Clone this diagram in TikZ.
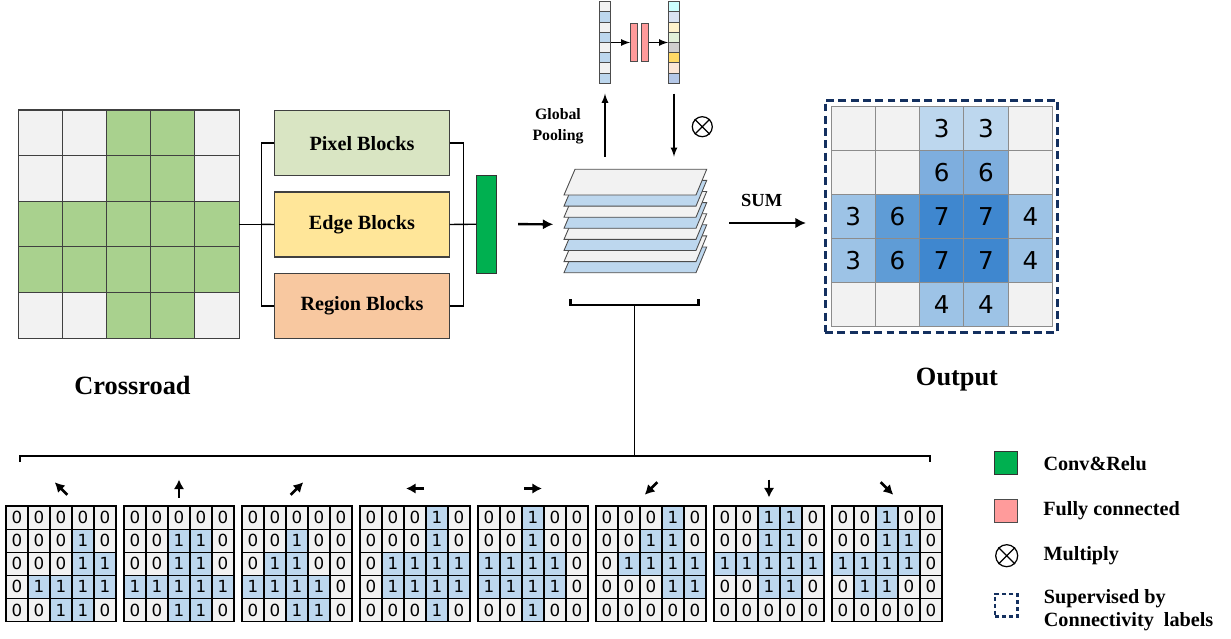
\documentclass[tikz,border=0pt]{standalone}
\usepackage{fontspec}
\setmainfont{Liberation Serif}
\newfontfamily\digitfont{DejaVu Sans}
\usetikzlibrary{positioning,calc,arrows.meta}

\definecolor{CellGray}{HTML}{F2F2F2}
\definecolor{CellBlue}{HTML}{BDD7EE}
\definecolor{CrossGreen}{HTML}{A9D18E}
\definecolor{PixelCol}{HTML}{D9E5C3}
\definecolor{EdgeCol}{HTML}{FFE699}
\definecolor{RegionCol}{HTML}{F8C8A0}
\definecolor{ConvGreen}{HTML}{00B050}
\definecolor{FcRed}{HTML}{FF9B9B}
\definecolor{LabelNavy}{HTML}{14305F}
\colorlet{cell0}{CellGray}
\colorlet{cell1}{CellBlue}
\colorlet{cross0}{CellGray}
\colorlet{cross1}{CrossGreen}
\colorlet{outg}{CellGray}
\definecolor{outa}{HTML}{BDD7EE}
\definecolor{outb}{HTML}{7EAEDE}
\definecolor{outc}{HTML}{9DC3E6}
\definecolor{outd}{HTML}{5F9CD6}
\definecolor{oute}{HTML}{3F87CF}
\definecolor{VecA}{HTML}{CCFFFF}
\definecolor{VecB}{HTML}{DAE3F3}
\definecolor{VecC}{HTML}{FFF2CC}
\definecolor{VecD}{HTML}{E2F0D9}
\definecolor{VecE}{HTML}{D0CECE}
\definecolor{VecF}{HTML}{FFD966}
\definecolor{VecG}{HTML}{FBE5D6}
\definecolor{VecH}{HTML}{B4C7E7}

\tikzset{
  wire/.style={line width=0.8pt},
  arr/.style={line width=0.8pt,-latex},
  bigarrow/.style={line width=1.4pt,-{Latex[length=6pt,width=6pt]}},
  dirarrow/.style={line width=1.6pt,-{Latex[length=5.5pt,width=6pt]}},
  blockbox/.style={draw=black!75,line width=0.6pt,minimum width=3.49cm,minimum height=1.3cm,inner sep=0,
    font=\fontsize{11.5}{13}\selectfont\bfseries},
  biglabel/.style={font=\fontsize{15}{17}\selectfont\bfseries},
  legtext/.style={font=\fontsize{11.5}{13.2}\selectfont\bfseries,anchor=west,inner sep=0,align=left},
  bigdigit/.style={font=\digitfont\fontsize{14}{14}\selectfont,inner sep=0},
  smalldigit/.style={font=\digitfont\fontsize{9.5}{10}\selectfont,inner sep=0},
  mulsym/.style={draw,circle,line width=0.7pt,inner sep=0},
  supbox/.style={draw=LabelNavy,line width=1.7pt,dash pattern=on 4.5pt off 2.5pt,inner sep=0},
}

\begin{document}
\begin{tikzpicture}[x=0.02cm,y=-0.02cm]
\useasboundingbox (0,0) rectangle (1231,639);

% crossroad input
\foreach \row [count=\r from 0] in {{0,0,1,1,0},{0,0,1,1,0},{1,1,1,1,1},{1,1,1,1,1},{0,0,1,1,0}}
  \foreach \v [count=\c from 0] in \row
    \filldraw[fill=cross\v,draw=black!75,line width=0.6pt] (18.3+44.15*\c,110+45.65*\r) rectangle ++(44.15,45.65);
\coordinate (CrossEast) at (239,224.3);
\node[biglabel] (crosslabel) at (132.5,385) {Crossroad};

% three block branches
\node[blockbox,fill=PixelCol] (pixel) at (362,143.2) {Pixel Blocks};
\node[blockbox,fill=EdgeCol] (edge) at (362,224.5) {Edge Blocks};
\node[blockbox,fill=RegionCol] (region) at (362,305.8) {Region Blocks};
\node[draw=black!80,fill=ConvGreen,line width=0.6pt,minimum width=0.4cm,minimum height=1.966cm,inner sep=0] (conv) at (486.7,224.2) {};

\coordinate (SplitL) at (261.7,224.3);
\coordinate (JoinR) at (463.3,224.3);
\draw[wire] (CrossEast) -- (SplitL);
\draw[wire] (pixel.west) -| (SplitL) |- (region.west);
\draw[wire] (SplitL) -- (edge.west);
\draw[wire] (pixel.east) -| (JoinR) |- (region.east);
\draw[wire] (edge.east) -- (conv.west);

% stacked feature maps
\foreach \i/\col in {7/CellBlue,6/CellGray,5/CellBlue,4/CellGray,3/CellBlue,2/CellGray,1/CellBlue,0/CellGray}
  \filldraw[fill=\col,draw=black!70,line width=0.5pt] (575,169.3+11.1*\i) -- (706.7,169.3+11.1*\i) -- (696,195+11.1*\i) -- (564,195+11.1*\i) -- cycle;
\coordinate (StackIn) at (553.3,224.3);
\coordinate (StackOut) at (729,223);
\coordinate (OutIn) at (806,223);
\draw[bigarrow] ([xshift=0.42cm]conv.east) -- (StackIn);
\draw[bigarrow] (StackOut) -- (OutIn);
\node[font=\fontsize{10.5}{12}\selectfont\bfseries] (sum) at (761.7,200) {SUM};

% channel attention on top
\foreach \col [count=\i from 0] in {CellGray,CellBlue,CellGray,CellBlue,CellGray,CellBlue,CellGray,CellBlue}
  \filldraw[fill=\col,draw=black!70,line width=0.5pt] (599.5,1.7+10.2*\i) rectangle ++(11,10.2);
\foreach \col [count=\i from 0] in {VecA,VecB,VecC,VecD,VecE,VecF,VecG,VecH}
  \filldraw[fill=\col,draw=black!70,line width=0.5pt] (668.5,1.7+10.2*\i) rectangle ++(11,10.2);
\node[minimum width=0.22cm,minimum height=1.632cm,inner sep=0] (vecin) at (605,42.5) {};
\node[minimum width=0.22cm,minimum height=1.632cm,inner sep=0] (vecout) at (674,42.5) {};
\node[draw=black!70,fill=FcRed,line width=0.5pt,minimum width=0.132cm,minimum height=0.768cm,inner sep=0] (fc1) at (634,42.5) {};
\node[draw=black!70,fill=FcRed,line width=0.5pt,minimum width=0.132cm,minimum height=0.768cm,inner sep=0] (fc2) at (645,42.5) {};
\draw[arr] (vecin.east) -- (fc1.west);
\draw[arr] (fc2.east) -- (vecout.west);
\coordinate (PoolFrom) at (605,156.7);
\coordinate (ScaleTo) at (674,156.7);
\draw[arr] (PoolFrom) -- ([yshift=-0.2cm]vecin.south);
\draw[arr] ([yshift=-0.2cm]vecout.south) -- (ScaleTo);
\node[font=\fontsize{9}{12}\selectfont\bfseries,align=center] (pool) at (558,126) {Global\\Pooling};
\node[mulsym,minimum size=0.4cm] (mul) at (702.3,126.7) {};
\draw[line width=0.7pt] (mul.north west) -- (mul.south east) (mul.north east) -- (mul.south west);

% output map
\foreach \row [count=\r from 0] in {{g,g,a,a,g},{g,g,b,b,g},{c,d,e,e,c},{c,d,e,e,c},{g,g,c,c,g}}
  \foreach \k [count=\c from 0] in \row
    \filldraw[fill=out\k,draw=black!45,line width=0.5pt] (831+44.3*\c,106.7+44*\r) rectangle ++(44.3,44);
\foreach \c/\r/\v in {2/0/3,3/0/3,2/1/6,3/1/6,0/2/3,1/2/6,2/2/7,3/2/7,4/2/4,0/3/3,1/3/6,2/3/7,3/3/7,4/3/4,2/4/4,3/4/4}
  \node[bigdigit] (out-\c-\r) at (853.15+44.3*\c,128.7+44*\r) {\v};
\node[supbox,minimum width=4.654cm,minimum height=4.646cm] (outbox) at (941.4,216.2) {};
\node[biglabel] (outlabel) at (957,380) {Output};

% brackets
\coordinate (BraceMid) at (634.5,305);
\coordinate (BraceLow) at (634.5,456);
\draw[line width=1.4pt] (570.7,299.3) -- (570.7,305) -- (698.3,305) -- (698.3,299.3);
\draw[line width=1pt] (BraceMid) -- (BraceLow);
\draw[line width=1pt] (20,462) -- (20,456) -- (930,456) -- (930,462);

% eight directional connectivity maps
\foreach \m/\dx/\dy/\rows in {
  0/-0.7/-0.7/{{0,0,0,0,0},{0,0,0,1,0},{0,0,0,1,1},{0,1,1,1,1},{0,0,1,1,0}},
  1/0/-1/{{0,0,0,0,0},{0,0,1,1,0},{0,0,1,1,0},{1,1,1,1,1},{0,0,1,1,0}},
  2/0.7/-0.7/{{0,0,0,0,0},{0,0,1,0,0},{0,1,1,0,0},{1,1,1,1,0},{0,0,1,1,0}},
  3/-1/0/{{0,0,0,1,0},{0,0,0,1,0},{0,1,1,1,1},{0,1,1,1,1},{0,0,0,1,0}},
  4/1/0/{{0,0,1,0,0},{0,0,1,0,0},{1,1,1,1,0},{1,1,1,1,0},{0,0,1,0,0}},
  5/-0.7/0.7/{{0,0,0,1,0},{0,0,1,1,0},{0,1,1,1,1},{0,0,0,1,1},{0,0,0,0,0}},
  6/0/1/{{0,0,1,1,0},{0,0,1,1,0},{1,1,1,1,1},{0,0,1,1,0},{0,0,0,0,0}},
  7/0.7/0.7/{{0,0,1,0,0},{0,0,1,1,0},{1,1,1,1,0},{0,1,1,0,0},{0,0,0,0,0}}}{
  \foreach \row [count=\r from 0] in \rows
    \foreach \v [count=\c from 0] in \row {
      \filldraw[fill=cell\v,draw=black,line width=0.6pt] (6+118*\m+22*\c,506+23.1*\r) rectangle ++(22,23.1);
      \node[smalldigit] (m\m-\r-\c) at (17+118*\m+22*\c,517.55+23.1*\r) {\v};
    }
  \draw[dirarrow] ({61+118*\m-9*(\dx)},{488.5-9*(\dy)}) -- ({61+118*\m+9*(\dx)},{488.5+9*(\dy)});
}

% legend
\node[draw=black!80,fill=ConvGreen,line width=0.6pt,minimum size=0.466cm,inner sep=0] (legconv) at (1006,463.3) {};
\node[draw=black!70,fill=FcRed,line width=0.6pt,minimum size=0.46cm,inner sep=0] (legfc) at (1006,510.7) {};
\node[mulsym,minimum size=0.44cm] (legmul) at (1006.7,555.7) {};
\draw[line width=0.7pt] (legmul.north west) -- (legmul.south east) (legmul.north east) -- (legmul.south west);
\node[draw=LabelNavy,line width=1.2pt,dash pattern=on 2.5pt off 1.5pt,minimum size=0.45cm,inner sep=0] (legsup) at (1006.2,605.3) {};
\node[legtext,right=0.5cm of legconv] (convtext) {Conv\&Relu};
\node[legtext,right=0.5cm of legfc] (fctext) {Fully connected};
\node[legtext,right=0.5cm of legmul] (multext) {Multiply};
\node[legtext,right=0.5cm of legsup,yshift=-0.1cm] (suptext) {Supervised by\\Connectivity\ \ labels};
\end{tikzpicture}
\end{document}
